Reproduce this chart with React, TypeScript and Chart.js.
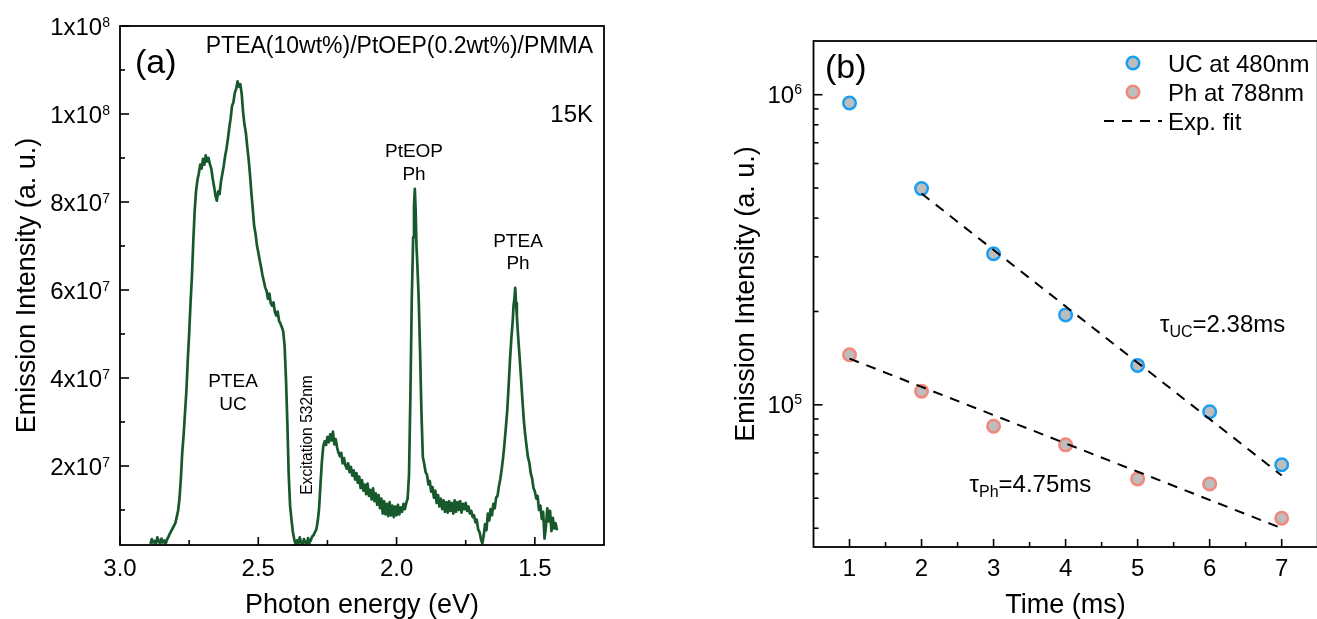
import React, { useEffect, useRef } from "react";
import { Chart, registerables } from "chart.js";

Chart.register(...registerables);

const FONT = '"Liberation Sans", Arial, Helvetica, sans-serif';
const font = (size: number) => `${size}px ${FONT}`;

// ---------------- Panel (a): emission spectrum ----------------
const energyEV = [
  2.89, 2.885, 2.88, 2.875, 2.87, 2.865, 2.86, 2.855, 2.85, 2.845, 2.84, 2.835, 2.83, 2.825, 2.82, 2.815, 2.81, 2.8,
  2.79, 2.785, 2.78, 2.775, 2.77, 2.765, 2.76, 2.755, 2.75, 2.745, 2.74, 2.735, 2.73, 2.725, 2.72, 2.715, 2.71, 2.705,
  2.7, 2.695, 2.69, 2.685, 2.68, 2.675, 2.67, 2.665, 2.66, 2.655, 2.65, 2.645, 2.64, 2.635, 2.63, 2.625, 2.62, 2.615,
  2.61, 2.605, 2.6, 2.595, 2.59, 2.585, 2.58, 2.575, 2.57, 2.565, 2.56, 2.555, 2.55, 2.545, 2.54, 2.535, 2.53, 2.525,
  2.52, 2.515, 2.51, 2.505, 2.5, 2.495, 2.49, 2.485, 2.48, 2.475, 2.47, 2.465, 2.46, 2.455, 2.45, 2.445, 2.44, 2.435,
  2.43, 2.425, 2.42, 2.415, 2.41, 2.405, 2.4, 2.395, 2.39, 2.385, 2.38, 2.375, 2.37, 2.365, 2.36, 2.355, 2.35, 2.345,
  2.34, 2.335, 2.33, 2.325, 2.32, 2.315, 2.31, 2.305, 2.3, 2.295, 2.29, 2.285, 2.28, 2.275, 2.27, 2.265, 2.26, 2.255,
  2.25, 2.245, 2.24, 2.235, 2.23, 2.225, 2.22, 2.215, 2.21, 2.205, 2.2, 2.195, 2.19, 2.185, 2.18, 2.175, 2.17, 2.165,
  2.16, 2.155, 2.15, 2.145, 2.14, 2.135, 2.13, 2.125, 2.12, 2.115, 2.11, 2.105, 2.1, 2.095, 2.09, 2.085, 2.08, 2.075,
  2.07, 2.065, 2.06, 2.055, 2.05, 2.045, 2.04, 2.035, 2.03, 2.025, 2.02, 2.015, 2.01, 2.005, 2.0, 1.995, 1.99, 1.985,
  1.98, 1.975, 1.97, 1.965, 1.96, 1.955, 1.95, 1.945, 1.94, 1.937, 1.934, 1.931, 1.928, 1.925, 1.92, 1.915, 1.91, 1.905,
  1.9, 1.895, 1.89, 1.885, 1.88, 1.875, 1.87, 1.865, 1.86, 1.855, 1.85, 1.845, 1.84, 1.835, 1.83, 1.825, 1.82, 1.815,
  1.81, 1.805, 1.8, 1.795, 1.79, 1.785, 1.78, 1.775, 1.77, 1.765, 1.76, 1.755, 1.75, 1.745, 1.74, 1.735, 1.73, 1.725,
  1.72, 1.715, 1.71, 1.705, 1.7, 1.695, 1.69, 1.685, 1.68, 1.675, 1.67, 1.665, 1.66, 1.655, 1.65, 1.645, 1.64, 1.635,
  1.63, 1.625, 1.62, 1.615, 1.61, 1.605, 1.6, 1.595, 1.59, 1.585, 1.58, 1.577, 1.574, 1.571, 1.568, 1.565, 1.56, 1.555,
  1.55, 1.545, 1.54, 1.535, 1.53, 1.525, 1.52, 1.515, 1.51, 1.505, 1.5, 1.495, 1.49, 1.485, 1.48, 1.475, 1.47, 1.465,
  1.46, 1.455, 1.45, 1.445, 1.44, 1.435, 1.43, 1.425, 1.42,
];
// intensity in units of 1e6 (a. u.)
const intensityE6 = [
  2.3, 3.4, 2.6, 3.0, 2.2, 3.8, 2.9, 2.4, 3.5, 2.6, 3.1, 2.3, 3.3, 3.9, 4.6, 5.2, 5.8, 7.0,
  9.8, 12.5, 17, 23, 27, 32, 37, 44, 50, 57, 63, 71, 78, 82.5, 85, 86.5, 88.5, 87.6,
  89.8, 88.5, 90.6, 89.2, 90.0, 88.6, 87.6, 85.4, 83.6, 81.5, 80.3, 82.4, 81.8, 84.6, 86.4, 88.2, 90.4, 92.1,
  94.3, 96.8, 99.0, 101.8, 102.6, 104.8, 105.7, 107.4, 106.2, 106.8, 104.6, 100.5, 97.6, 95.8, 92.6, 89.8, 86.2, 82.0,
  78.5, 74.6, 72.8, 70.2, 68.6, 66.8, 65.2, 63.4, 62.0, 60.6, 59.8, 58.0, 59.2, 57.0, 56.4, 57.2, 55.0, 54.2,
  55.1, 53.0, 52.4, 51.6, 50.6, 47.5, 40, 30, 18, 11, 7.8, 5.0, 3.4, 2.2, 3.1, 2.4, 3.8, 2.5,
  2.2, 3.4, 2.6, 2.2, 3.6, 2.5, 3.2, 4.0, 4.3, 5.0, 5.6, 7.5, 10.5, 16, 21, 24.5, 25.6, 24.8,
  26.6, 25.4, 27.2, 25.8, 27.8, 24.9, 26.1, 24.2, 23.0, 22.2, 23.0, 20.6, 21.8, 20.2, 19.4, 20.6, 18.6, 19.8,
  17.8, 19.0, 16.9, 18.4, 16.2, 17.6, 15.0, 16.8, 14.4, 15.8, 13.6, 16.0, 13.2, 14.6, 12.4, 14.9, 12.0, 13.8,
  11.2, 13.4, 10.4, 12.6, 9.2, 12.0, 9.0, 11.4, 8.6, 11.8, 8.8, 11.0, 8.4, 10.8, 8.8, 11.2, 9.0, 10.6,
  9.6, 11.4, 10.2, 11.6, 12.6, 18, 36, 58, 72, 79, 83, 78, 70, 66, 58, 46, 32, 22,
  20.5, 18.6, 18.0, 15.8, 16.6, 14.2, 15.2, 12.8, 14.4, 11.6, 13.4, 10.8, 12.6, 10.2, 12.2, 9.6, 11.8, 9.4,
  12.0, 9.8, 11.6, 9.2, 12.2, 9.6, 11.8, 10.0, 12.0, 9.4, 11.4, 10.2, 11.6, 9.8, 10.8, 9.2, 9.8, 8.4,
  8.8, 7.2, 7.8, 5.6, 5.0, 3.4, 2.4, 4.2, 6.8, 5.4, 9.2, 7.6, 10.2, 8.8, 11.4, 10.4, 12.8, 13.2,
  15.4, 17.0, 19.2, 21.8, 25.0, 28.6, 32.5, 38, 44, 49, 53, 56.5, 58, 60.5, 57, 54, 49, 44.6,
  40, 35, 30.5, 27.2, 24.5, 22, 20.8, 18.4, 17.2, 15.0, 14.2, 12.6, 13.2, 10.0, 11.0, 8.0, 9.6, 3.5,
  6.2, 10.4, 7.4, 9.8, 5.2, 8.2, 5.8, 7.0, 5.4,
];
const aXMajor = [3.0, 2.5, 2.0, 1.5];
const aXMajorLabels = ["3.0", "2.5", "2.0", "1.5"];
const aXMinor = [2.75, 2.25, 1.75];
const aYMajor = [2e7, 4e7, 6e7, 8e7, 1e8, 1.2e8];
const aYLabelBase = ["2x10", "4x10", "6x10", "8x10", "1x10", "1x10"];
const aYLabelExp = ["7", "7", "7", "7", "8", "8"];
const aYMinor = [1e7, 3e7, 5e7, 7e7, 9e7, 1.1e8];
const aXTitle = "Photon energy (eV)";
const aYTitle = "Emission Intensity (a. u.)";

// ---------------- Panel (b): decay ----------------
const timeMs = [1, 2, 3, 4, 5, 6, 7];
const ucIntensity = [9.4e5, 4.98e5, 3.07e5, 1.95e5, 1.34e5, 9.5e4, 6.41e4];
const phIntensity = [1.45e5, 1.107e5, 8.53e4, 7.43e4, 5.77e4, 5.56e4, 4.31e4];
const ucFitTime = [2, 7];
const ucFitValue = [4.8e5, 5.92e4];
const phFitTime = [1, 7];
const phFitValue = [1.41e5, 4.0e4];
const bXMajor = [1, 2, 3, 4, 5, 6, 7];
const bXMajorLabels = ["1", "2", "3", "4", "5", "6", "7"];
const bXMinor = [1.5, 2.5, 3.5, 4.5, 5.5, 6.5];
const bYMajor = [1e5, 1e6];
const bYLabelExp = ["5", "6"];
const bYMinor = [4e4, 5e4, 6e4, 7e4, 8e4, 9e4, 2e5, 3e5, 4e5, 5e5, 6e5, 7e5, 8e5, 9e5];
const legendLabels = ["UC at 480nm", "Ph at 788nm", "Exp. fit"];
const bXTitle = "Time (ms)";
const bYTitle = "Emission Intensity (a. u.)";

const GREEN = "#17592D";
const UC_BLUE = "#1A9EF2";
const PH_SALMON = "#F2877B";
const MARKER_FILL = "#BDBDBD";

function drawSci(ctx: CanvasRenderingContext2D, xRight: number, y: number, base: string, sup: string, baseSize: number, supSize: number, supDy: number) {
  ctx.font = font(supSize);
  const supW = ctx.measureText(sup).width;
  ctx.font = font(baseSize);
  const baseW = ctx.measureText(base).width;
  ctx.textAlign = "left";
  ctx.textBaseline = "alphabetic";
  ctx.fillText(base, xRight - supW - baseW, y + baseSize * 0.358);
  ctx.font = font(supSize);
  ctx.fillText(sup, xRight - supW, y + supDy);
}

function seg(ctx: CanvasRenderingContext2D, x1: number, y1: number, x2: number, y2: number) {
  ctx.beginPath();
  ctx.moveTo(x1, y1);
  ctx.lineTo(x2, y2);
  ctx.stroke();
}

function drawSub(ctx: CanvasRenderingContext2D, x: number, baseline: number, a: string, sub: string, rest: string) {
  ctx.textAlign = "left";
  ctx.textBaseline = "alphabetic";
  ctx.font = font(24);
  ctx.fillText(a, x, baseline);
  let cx = x + ctx.measureText(a).width;
  ctx.font = font(16);
  ctx.fillText(sub, cx, baseline + 5);
  cx += ctx.measureText(sub).width;
  ctx.font = font(24);
  ctx.fillText(rest, cx, baseline);
}

const panelAPlugin = {
  id: "panelA",
  afterDraw(chart: any) {
    const ctx: CanvasRenderingContext2D = chart.ctx;
    const { left, right, top, bottom } = chart.chartArea;
    const xs = chart.scales.x;
    const ys = chart.scales.y;
    ctx.save();
    ctx.strokeStyle = "#000";
    ctx.lineWidth = 1.8;
    ctx.strokeRect(left, top, right - left, bottom - top);
    ctx.lineWidth = 1.6;
    aXMajor.forEach((v) => { const x = xs.getPixelForValue(v); seg(ctx, x, bottom, x, bottom - 8); });
    aXMinor.forEach((v) => { const x = xs.getPixelForValue(v); seg(ctx, x, bottom, x, bottom - 5); });
    aYMajor.forEach((v) => { const y = ys.getPixelForValue(v); seg(ctx, left, y, left + 9, y); });
    aYMinor.forEach((v) => { const y = ys.getPixelForValue(v); seg(ctx, left, y, left + 5, y); });

    ctx.fillStyle = "#000";
    ctx.font = font(24);
    ctx.textAlign = "center";
    ctx.textBaseline = "alphabetic";
    aXMajor.forEach((v, i) => ctx.fillText(aXMajorLabels[i], xs.getPixelForValue(v), 576));
    aYMajor.forEach((v, i) => drawSci(ctx, left - 10, ys.getPixelForValue(v), aYLabelBase[i], aYLabelExp[i], 24, 14, 1));

    ctx.font = font(27);
    ctx.textAlign = "center";
    ctx.fillText(aXTitle, (left + right) / 2, 613);
    ctx.save();
    ctx.translate(35, (top + bottom) / 2);
    ctx.rotate(-Math.PI / 2);
    ctx.fillText(aYTitle, 0, 0);
    ctx.restore();

    // annotations
    ctx.textAlign = "left";
    ctx.font = font(34);
    ctx.fillText("(a)", 135, 73);
    ctx.textAlign = "right";
    ctx.font = font(23);
    ctx.fillText("PTEA(10wt%)/PtOEP(0.2wt%)/PMMA", 593, 53);
    ctx.font = font(24);
    ctx.fillText("15K", 593, 122);
    ctx.textAlign = "center";
    ctx.font = font(19);
    ctx.fillText("PtEOP", 414, 157);
    ctx.fillText("Ph", 414, 180);
    ctx.fillText("PTEA", 518, 247);
    ctx.fillText("Ph", 518, 269);
    ctx.fillText("PTEA", 233, 387);
    ctx.fillText("UC", 233, 410);
    ctx.save();
    ctx.translate(311.5, 435);
    ctx.rotate(-Math.PI / 2);
    ctx.font = font(15.6);
    ctx.fillText("Excitation 532nm", 0, 0);
    ctx.restore();
    ctx.restore();
  },
};

const panelBPlugin = {
  id: "panelB",
  afterDraw(chart: any) {
    const ctx: CanvasRenderingContext2D = chart.ctx;
    const { left, right, top, bottom } = chart.chartArea;
    const xs = chart.scales.x;
    const ys = chart.scales.y;
    ctx.save();
    ctx.strokeStyle = "#000";
    ctx.lineWidth = 1.8;
    ctx.strokeRect(left, top, right - left, bottom - top);
    ctx.lineWidth = 1.6;
    bXMajor.forEach((v) => { const x = xs.getPixelForValue(v); seg(ctx, x, bottom, x, bottom - 8); });
    bXMinor.forEach((v) => { const x = xs.getPixelForValue(v); seg(ctx, x, bottom, x, bottom - 5); });
    bYMajor.forEach((v) => { const y = ys.getPixelForValue(v); seg(ctx, left, y, left + 9, y); });
    bYMinor.forEach((v) => { const y = ys.getPixelForValue(v); seg(ctx, left, y, left + 5, y); });

    ctx.fillStyle = "#000";
    ctx.font = font(24);
    ctx.textAlign = "center";
    ctx.textBaseline = "alphabetic";
    bXMajor.forEach((v, i) => ctx.fillText(bXMajorLabels[i], xs.getPixelForValue(v), 576));
    bYMajor.forEach((v, i) => drawSci(ctx, left - 11.5, ys.getPixelForValue(v), "10", bYLabelExp[i], 24, 14, -1));

    ctx.font = font(27);
    ctx.textAlign = "center";
    ctx.fillText(bXTitle, (left + right) / 2, 613);
    ctx.save();
    ctx.translate(54, (top + bottom) / 2);
    ctx.rotate(-Math.PI / 2);
    ctx.fillText(bYTitle, 0, 0);
    ctx.restore();

    ctx.textAlign = "left";
    ctx.font = font(34);
    ctx.fillText("(b)", 125, 78);

    // legend
    const mk = (x: number, y: number, c: string) => {
      ctx.beginPath();
      ctx.arc(x, y, 6.25, 0, Math.PI * 2);
      ctx.fillStyle = MARKER_FILL;
      ctx.fill();
      ctx.lineWidth = 2.5;
      ctx.strokeStyle = c;
      ctx.stroke();
    };
    mk(433, 63, UC_BLUE);
    mk(433, 92, PH_SALMON);
    ctx.strokeStyle = "#000";
    ctx.lineWidth = 2;
    ctx.setLineDash([10, 8]);
    seg(ctx, 404, 121, 462, 121);
    ctx.setLineDash([]);
    ctx.fillStyle = "#000";
    ctx.font = font(24);
    ctx.fillText(legendLabels[0], 468, 72);
    ctx.fillText(legendLabels[1], 468, 100.5);
    ctx.fillText(legendLabels[2], 468, 129.5);

    drawSub(ctx, 460, 331.5, "\u03C4", "UC", "=2.38ms");
    drawSub(ctx, 269.5, 492, "\u03C4", "Ph", "=4.75ms");
    ctx.restore();
  },
};

export default function App() {
  const refA = useRef<HTMLCanvasElement>(null);
  const refB = useRef<HTMLCanvasElement>(null);

  useEffect(() => {
    const chartA = new Chart(refA.current as HTMLCanvasElement, {
      type: "line",
      data: {
        datasets: [
          {
            data: energyEV.map((e, i) => ({ x: e, y: intensityE6[i] * 1e6 })),
            borderColor: GREEN,
            borderWidth: 2.7,
            borderJoinStyle: "round",
            pointRadius: 0,
            tension: 0,
            fill: false,
          },
        ],
      },
      options: {
        animation: false,
        responsive: false,
        devicePixelRatio: 1,
        layout: { padding: { left: 0, right: 56, top: 26, bottom: 0 } },
        plugins: { legend: { display: false }, tooltip: { enabled: false } },
        scales: {
          x: {
            type: "linear",
            reverse: true,
            min: 1.25,
            max: 3.0,
            grid: { display: false },
            border: { display: false },
            ticks: { display: false },
            afterFit: (s: any) => { s.height = 74; },
          },
          y: {
            type: "linear",
            min: 2.05e6,
            max: 1.2e8,
            grid: { display: false },
            border: { display: false },
            ticks: { display: false },
            afterFit: (s: any) => { s.width = 120; },
          },
        },
      } as any,
      plugins: [panelAPlugin],
    });

    const pts = (xs: number[], ys: number[]) => xs.map((x, i) => ({ x, y: ys[i] }));
    const chartB = new Chart(refB.current as HTMLCanvasElement, {
      type: "line",
      data: {
        datasets: [
          { data: pts(ucFitTime, ucFitValue), borderColor: "#000", borderWidth: 2, borderDash: [10, 8], pointRadius: 0, fill: false },
          { data: pts(phFitTime, phFitValue), borderColor: "#000", borderWidth: 2, borderDash: [10, 8], pointRadius: 0, fill: false },
          {
            data: pts(timeMs, ucIntensity),
            showLine: false,
            pointRadius: 6.25,
            pointBackgroundColor: MARKER_FILL,
            pointBorderColor: UC_BLUE,
            pointBorderWidth: 2.5,
          },
          {
            data: pts(timeMs, phIntensity),
            showLine: false,
            pointRadius: 6.25,
            pointBackgroundColor: MARKER_FILL,
            pointBorderColor: PH_SALMON,
            pointBorderWidth: 2.5,
          },
        ],
      },
      options: {
        animation: false,
        responsive: false,
        devicePixelRatio: 1,
        layout: { padding: { left: 0, right: 12.3, top: 41, bottom: 0 } },
        plugins: { legend: { display: false }, tooltip: { enabled: false } },
        scales: {
          x: {
            type: "linear",
            min: 0.5,
            max: 7.5,
            grid: { display: false },
            border: { display: false },
            ticks: { display: false },
            afterFit: (s: any) => { s.height = 72; },
          },
          y: {
            type: "logarithmic",
            min: 3.48e4,
            max: 1.49e6,
            grid: { display: false },
            border: { display: false },
            ticks: { display: false },
            afterFit: (s: any) => { s.width = 113.5; },
          },
        },
      } as any,
      plugins: [panelBPlugin],
    });

    return () => {
      chartA.destroy();
      chartB.destroy();
    };
  }, []);

  return (
    <div style={{ position: "absolute", left: 0, top: 0, width: 1317, height: 619, overflow: "hidden", background: "#fff" }}>
      <canvas ref={refA} width={660} height={619} style={{ position: "absolute", left: 0, top: 0 }} />
      <canvas ref={refB} width={630} height={619} style={{ position: "absolute", left: 700, top: 0 }} />
    </div>
  );
}
